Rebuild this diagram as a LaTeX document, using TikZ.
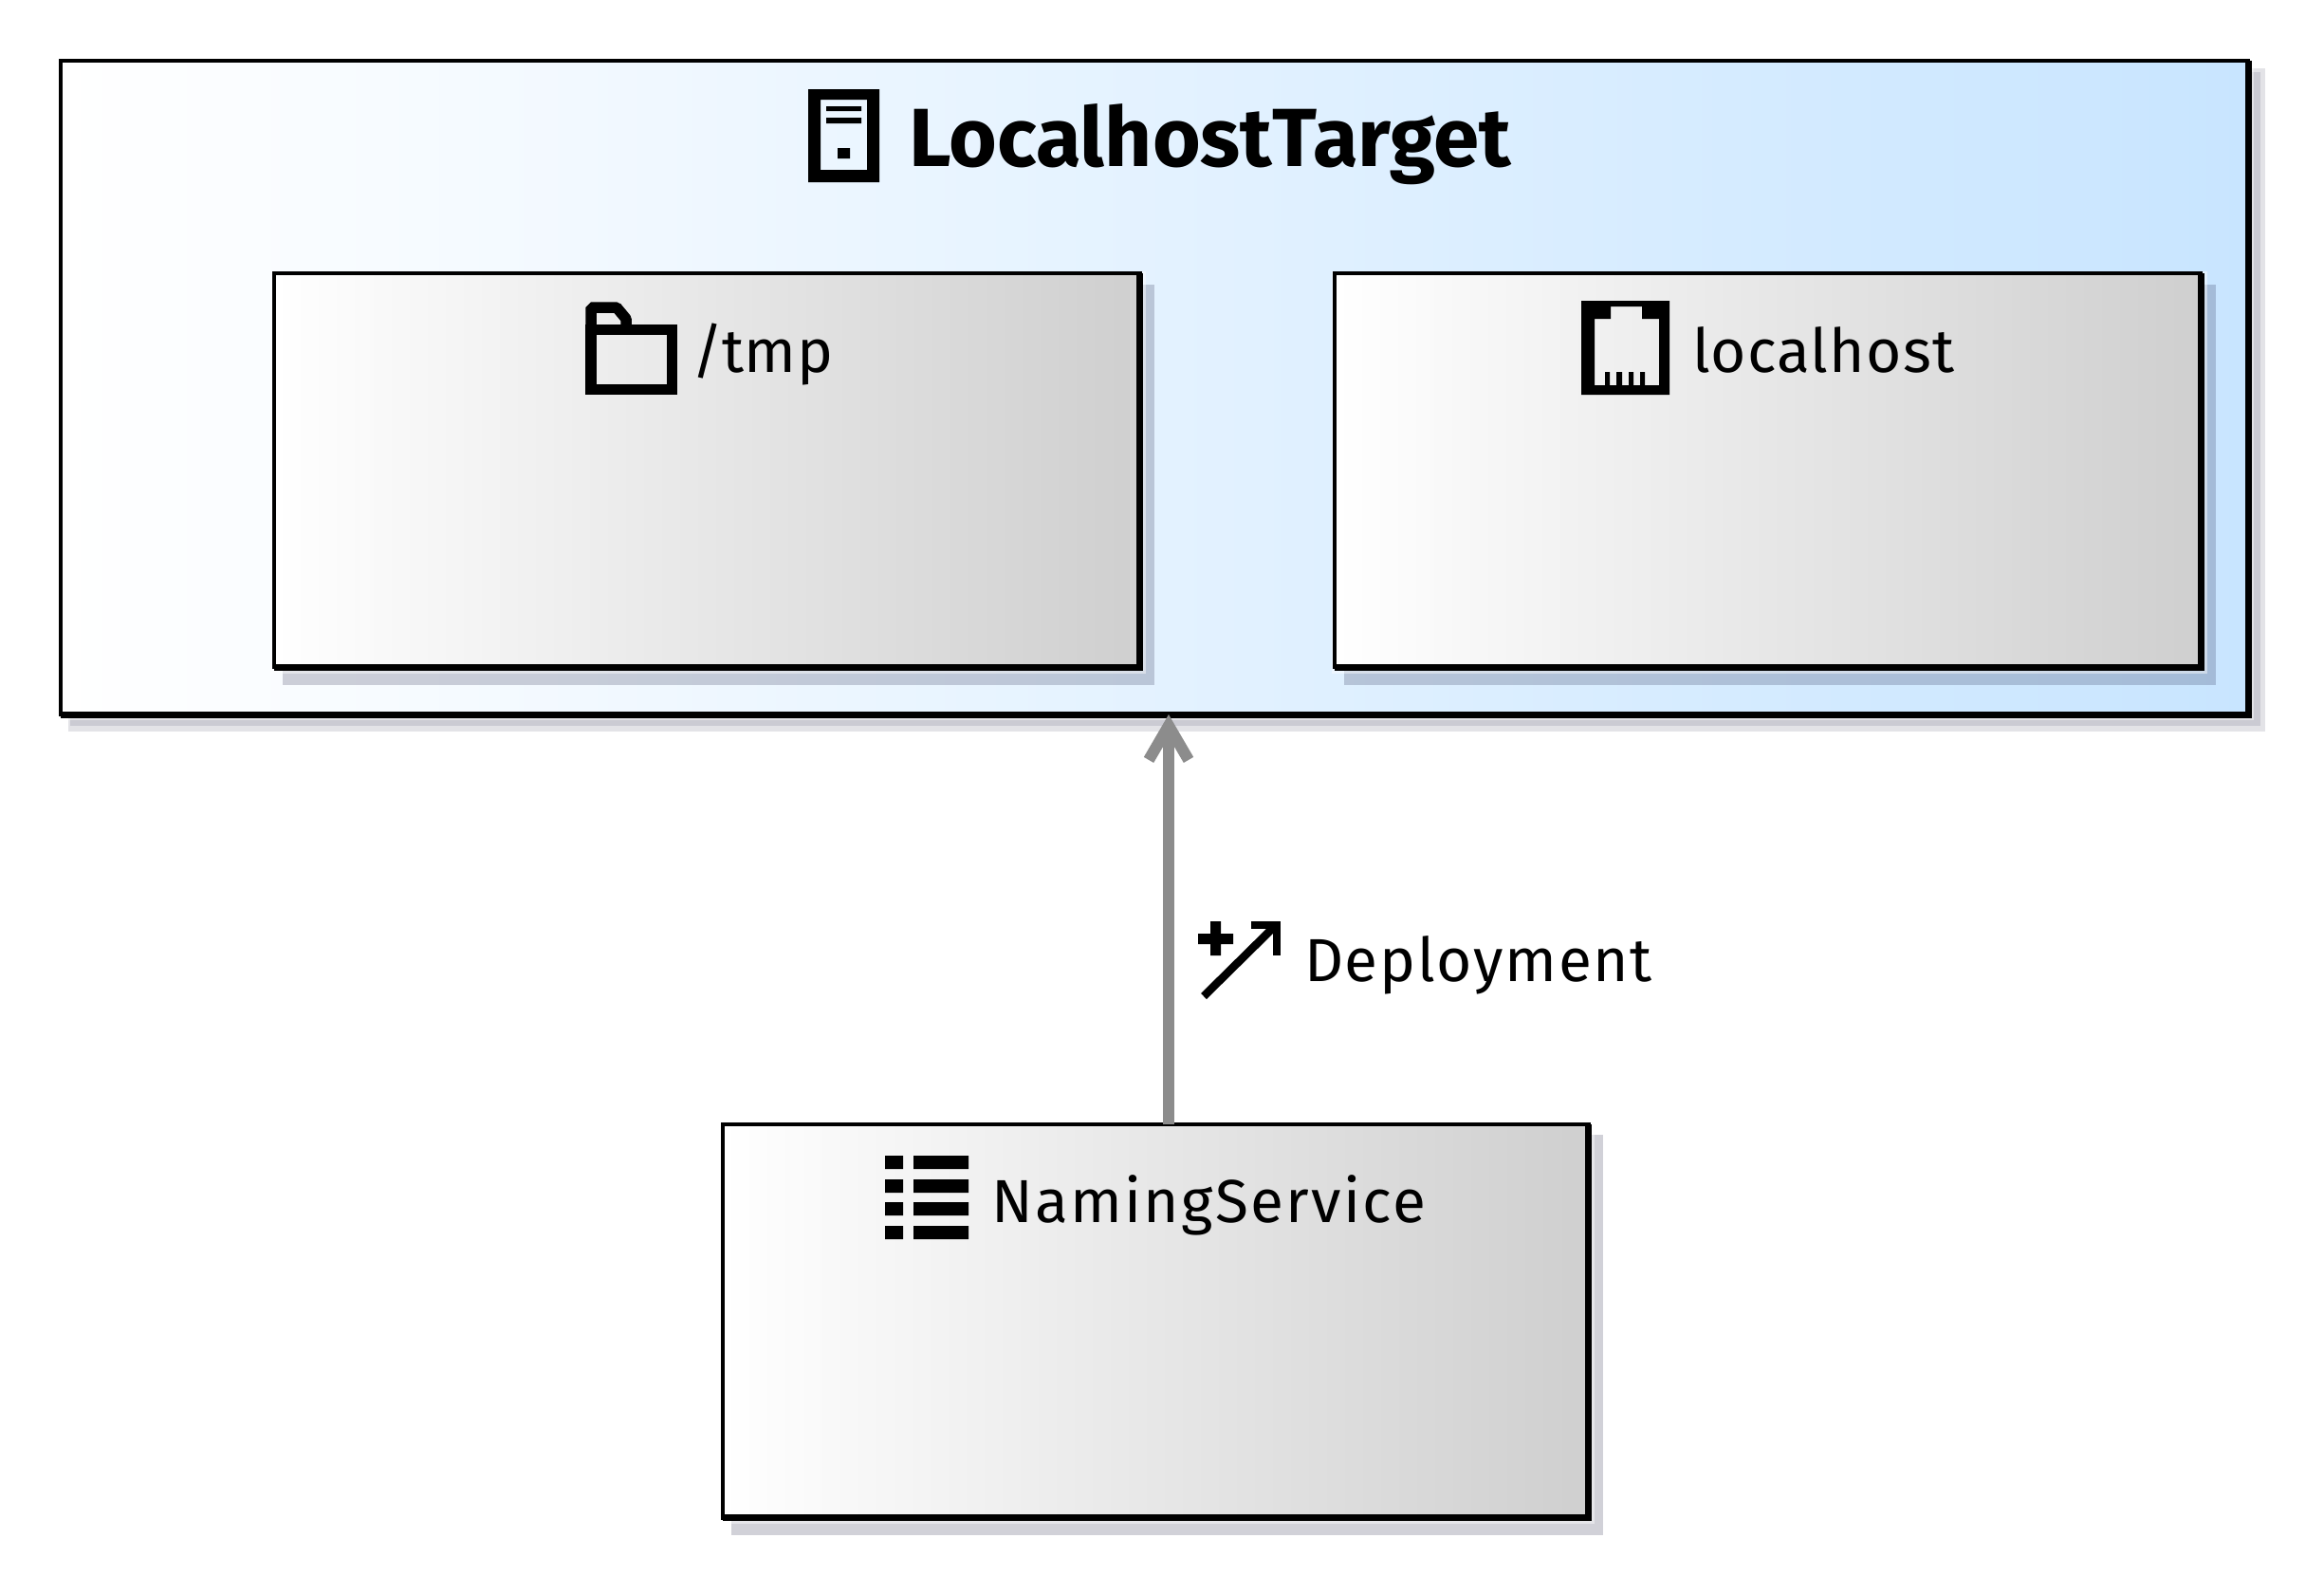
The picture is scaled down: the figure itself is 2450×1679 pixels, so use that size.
\documentclass[tikz,border=0pt]{standalone}
\usepackage{fontspec}
\setmainfont{Fira Sans}
\usetikzlibrary{arrows.meta}
\definecolor{targetblue}{HTML}{C8E5FF}
\definecolor{boxgray}{HTML}{CFCFCF}
\definecolor{conn}{HTML}{8C8C8C}
\definecolor{shadowink}{RGB}{0,0,40}
\tikzset{
  x=1pt,y=-1pt,
  boxnode/.style={draw=black,line width=4pt,inner sep=0pt,outer sep=0pt,left color=white},
  inner box/.style={boxnode,right color=boxgray,minimum width=913pt,minimum height=415pt},
  target box/.style={boxnode,right color=targetblue,minimum width=2306pt,minimum height=689pt},
  label/.style={anchor=base west,inner sep=0pt,outer sep=0pt,font=\fontsize{64}{72}\selectfont},
  title/.style={anchor=base west,inner sep=0pt,outer sep=0pt,font=\fontsize{87}{100}\selectfont\bfseries},
  shadowfill/.style={fill=shadowink,opacity=.18,draw=none},
  shadowlight/.style={fill=shadowink,opacity=.11,draw=none},
  halo/.style={fill=white,opacity=.45,draw=none},
  heavy/.style={line width=7pt,draw=black,line cap=butt,line join=miter},
  conn line/.style={draw=conn,line width=12pt,-{Straight Barb[length=36pt,width=42pt,line width=12pt]}},
  icon/.style={fill=black,even odd rule,draw=none}
}
\begin{document}
\begin{tikzpicture}
\useasboundingbox[fill=white] (0,0) rectangle (2450,1679);
% shadows
\fill[shadowlight] (72,72) rectangle (2388,771);
\fill[shadowfill,opacity=.1] (74,76) rectangle (2383,765);
\fill[halo] (62,62) rectangle (2376,759);
\node[target box] (target) at (1217,408.5) {};
\draw[heavy] (target.south west) -- (target.south east) -- (target.north east);
\foreach \cx/\cy in {745/495.5,1863.5/495.5,1218/1392}{
  \fill[shadowfill] (\cx-447,\cy-196) rectangle (\cx+472,\cy+226);
  \fill[halo] (\cx-460,\cy-210) rectangle (\cx+463,\cy+214);
}
\node[inner box] (tmp) at (745,495.5) {};
\node[inner box] (lh) at (1863.5,495.5) {};
\node[inner box] (ns) at (1218,1392) {};
\foreach \n in {tmp,lh,ns}{
  \draw[heavy] (\n.south west) -- (\n.south east) -- (\n.north east);
}
% connector
\draw[conn line] ([xshift=14pt]ns.north) -- ([xshift=14pt]ns.north |- target.south);
% server icon
\fill[icon] (852,94) rectangle (927,192) (865,105) rectangle (914,179);
\fill[black] (871,112) rectangle (908,117) (871,124) rectangle (908,130) (883,156) rectangle (896,167);
% folder icon
\draw[black,line width=11.5pt] (623,347.5) rectangle (708.5,410.5);
\draw[black,line width=11.5pt,line join=bevel] (623,347.5) -- (623,324) -- (650,324) -- (660,336) -- (660,347.5);
% port icon
\fill[icon] (1667,317) rectangle (1760,416)
  (1681,336) -- (1698,336) -- (1698,323) -- (1731,323) -- (1731,336) -- (1749,336) -- (1749,406) -- (1681,406) -- cycle;
\fill[black] (1692,392) rectangle (1697,406) (1704,392) rectangle (1710,406) (1717,392) rectangle (1722,406) (1729,392) rectangle (1734,406);
% list icon
\foreach \ly in {1218,1243,1267,1292}{
  \fill[black] (933,\ly) rectangle (952,\ly+14) (963,\ly) rectangle (1021,\ly+14);
}
% deployment icon
\fill[black] (1276,971) rectangle (1287,1007) (1263,984) rectangle (1300,995);
\draw[black,line width=8.5pt] (1269,1050) -- (1345,975);
\draw[black,line width=8pt,line join=miter] (1319,975) -- (1346,975) -- (1346,1007);
% labels
\node[title] (ttitle) at (958,175) {LocalhostTarget};
\node[label] (ltmp) at (729,392) {\addfontfeature{LetterSpace=1}/tmp};
\node[label] (llh) at (1784,392) {\addfontfeature{LetterSpace=1.9}localhost};
\node[label] (lns) at (1045,1288) {\addfontfeature{LetterSpace=3.6}NamingService};
\node[label] (ldep) at (1375,1034) {\addfontfeature{LetterSpace=2.7}Deployment};
\end{tikzpicture}
\end{document}
